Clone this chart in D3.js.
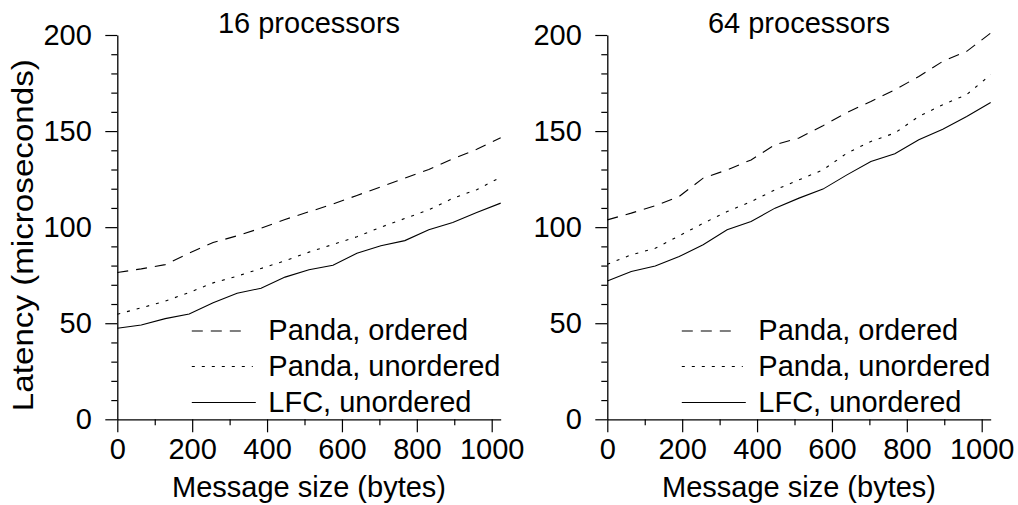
<!DOCTYPE html>
<html><head><meta charset="utf-8">
<script src="https://cdn.jsdelivr.net/npm/d3@7"></script>
<style>
body{margin:0;background:#fff;}
text{font-family:"Liberation Sans",Arial,sans-serif;fill:#000;}
</style></head>
<body><svg id="c" width="1018" height="505"></svg>
<script>
// ---- data ----
const msgSizes = [0,64,128,192,256,320,384,448,512,576,640,704,768,832,896,960,1024];
const seriesNames = ["Panda, ordered","Panda, unordered","LFC, unordered"];
const panelTitles = ["16 processors","64 processors"];
const p16Ordered   = [76.4,78.3,80.5,86.5,92,95.5,99.5,104,108,112,116.5,121,125.5,130,135.5,140.5,146.5];
const p16Unordered = [54.7,58,61.5,66,71,74.5,78.5,82.5,87,91,95,100,104.5,109,115,119.5,126];
const p16LFC       = [47.4,49.1,52.4,54.8,60.7,65.6,68.2,74,77.8,80.2,86.4,90.3,93,98.6,102.4,107.6,112.5];
const p64Ordered   = [103.8,107.3,111.1,116,125.5,129.8,135,142.9,146.4,152.8,159.7,165.4,171.5,178.4,186.3,191.5,201];
const p64Unordered = [80.7,85.6,89,95.5,102,108.1,113.3,119.4,124.6,129.8,138.5,144.6,149,157.6,163.7,169,179.3];
const p64LFC       = [72,76.9,79.8,84.7,90.8,98.6,102.9,109.9,115.1,119.8,127.2,134.2,138.2,145.5,151,157.6,164.9];
const xMajorTicks = [0,200,400,600,800,1000];
const xMinorTicks = [100,300,500,700,900];
const yMajorTicks = [0,50,100,150,200];
const yMinorTicks = [10,20,30,40,60,70,80,90,110,120,130,140,160,170,180,190];
const xLabel = "Message size (bytes)";
const yLabel = "Latency (microseconds)";

// ---- layout ----
const svg = d3.select("#c");
const FS = 29;
const dashes = ["11,8","3,7",null];
const panels = [
  {title: panelTitles[0], x0: 117.3, data: [p16Ordered,p16Unordered,p16LFC]},
  {title: panelTitles[1], x0: 607.3, data: [p64Ordered,p64Unordered,p64LFC]}
];
const yTop = 35, yBot = 419.3;
const pxPerByte = 374.4/1000;

panels.forEach((p,pi)=>{
  const x = d3.scaleLinear().domain([0,1024]).range([p.x0, p.x0 + 1024*pxPerByte]);
  const y = d3.scaleLinear().domain([0,200]).range([yBot, yTop]);
  const g = svg.append("g");

  // minor ticks
  g.append("g").attr("transform",`translate(0,${yBot})`)
    .call(d3.axisBottom(x).tickValues(xMinorTicks).tickSize(6).tickFormat(""))
    .call(s=>s.select(".domain").remove());
  g.append("g").attr("transform",`translate(${p.x0},0)`)
    .call(d3.axisLeft(y).tickValues(yMinorTicks).tickSize(6).tickFormat(""))
    .call(s=>s.select(".domain").remove());
  // major axes
  const ax = g.append("g").attr("transform",`translate(0,${yBot})`)
    .call(d3.axisBottom(x).tickValues(xMajorTicks).tickSize(13).tickSizeOuter(0).tickPadding(6).tickFormat(d3.format("d")));
  const ay = g.append("g").attr("transform",`translate(${p.x0},0)`)
    .call(d3.axisLeft(y).tickValues(yMajorTicks).tickSize(12).tickSizeOuter(0).tickPadding(13.5).tickFormat(d3.format("d")));
  [ax,ay].forEach(a=>{
    a.selectAll("text").style("font-size",FS+"px").style("font-family","Liberation Sans, Arial, sans-serif").attr("fill","#000");
    a.selectAll("line,path").attr("stroke","#000").attr("stroke-width",1.2);
  });
  g.selectAll("line").attr("stroke","#000").attr("stroke-width",1.2);
  g.selectAll(".domain").attr("stroke-width",1.3);

  // title
  g.append("text").attr("x",(x(0)+x(1024))/2).attr("y",33).attr("text-anchor","middle")
    .style("font-size",FS+"px").text(p.title);
  // x label
  g.append("text").attr("x",(x(0)+x(1024))/2).attr("y",497.3).attr("text-anchor","middle")
    .style("font-size",FS+"px").text(xLabel);

  // lines
  const line = d3.line().x((d,i)=>x(msgSizes[i])).y(d=>y(d));
  p.data.forEach((vals,si)=>{
    g.append("path").datum(vals).attr("d",line).attr("fill","none")
      .attr("stroke","#000").attr("stroke-width",1.1)
      .attr("stroke-dasharray",dashes[si]);
  });

  // legend
  const lx0 = p.x0 + 74.5, lineEnds = [49, 61, 64], lTextX = p.x0 + 151;
  const baselines = [340, 375.5, 411.5];
  seriesNames.forEach((nm,si)=>{
    g.append("line").attr("x1",lx0).attr("x2",lx0+lineEnds[si])
      .attr("y1",baselines[si]-9).attr("y2",baselines[si]-9)
      .attr("stroke","#000").attr("stroke-width",1.1).attr("stroke-dasharray",dashes[si]);
    g.append("text").attr("x",lTextX).attr("y",baselines[si]).style("font-size",FS+"px").text(nm);
  });
});

// y label
svg.append("text").attr("transform",`translate(33,${(yTop+yBot)/2 + 8}) rotate(-90)`)
  .attr("text-anchor","middle").style("font-size",FS+"px")
  .attr("textLength",352).attr("lengthAdjust","spacingAndGlyphs").text(yLabel);
</script></body></html>
